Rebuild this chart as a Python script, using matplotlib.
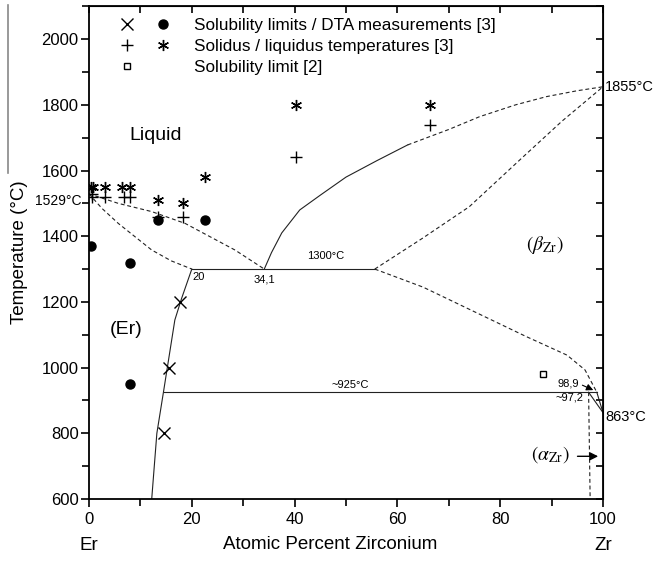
import numpy as np
import matplotlib
matplotlib.use('Agg')
import matplotlib.pyplot as plt
from matplotlib.lines import Line2D
from matplotlib.legend_handler import HandlerTuple
from matplotlib.ticker import MultipleLocator

plt.rcParams['font.family'] = ['Liberation Sans', 'DejaVu Sans']
plt.rcParams['mathtext.fontset'] = 'stix'

# measured points (x = at.% Zr, T in degC)
sol_x = [14.5, 15.5, 17.7]
sol_t = [800, 1000, 1200]
dta_x = [0.4, 8.0, 8.0, 13.4, 22.6]
dta_t = [1370, 1320, 950, 1450, 1450]
solidus_x = [0.5, 0.5, 3.2, 6.9, 8.0, 13.4, 18.2, 40.3, 66.3]
solidus_t = [1520, 1530, 1520, 1520, 1520, 1460, 1460, 1640, 1740]
liquidus_x = [0.3, 0.7, 3.1, 6.5, 8.0, 13.4, 18.2, 22.6, 40.3, 66.3]
liquidus_t = [1550, 1550, 1550, 1550, 1550, 1510, 1500, 1580, 1800, 1800]
lit_x = [88.3]
lit_t = [980]

# phase boundaries
er_solidus_x = [0, 2.5, 5.7, 12.2, 16, 20]
er_solidus_t = [1529, 1485, 1439, 1358, 1325, 1300]
er_liquidus_x = [0, 5.7, 12.2, 18.7, 28.4, 34.1]
er_liquidus_t = [1529, 1500, 1475, 1439, 1358, 1300]
zr_liq_solid_x = [34.1, 35.5, 37.5, 41, 45, 50, 56, 62]
zr_liq_solid_t = [1300, 1350, 1410, 1480, 1525, 1580, 1630, 1678]
zr_liq_dash_x = [62, 70, 76, 83, 89, 95, 100]
zr_liq_dash_t = [1678, 1725, 1764, 1800, 1825, 1843, 1855]
beta_sol_x = [55.6, 65, 74, 84, 92, 100]
beta_sol_t = [1300, 1395, 1490, 1635, 1750, 1855]
beta_low_x = [55.6, 65, 75, 85, 93, 96.5, 98.8]
beta_low_t = [1300, 1245, 1170, 1095, 1038, 993, 925]
er_solvus_x = [20, 18, 16.7, 14.5, 13.2, 12.2]
er_solvus_t = [1300, 1210, 1145, 927, 800, 600]
eut_x = [20, 55.6]
eut_t = [1300, 1300]
eutd_x = [14.5, 98.8]
eutd_t = [925, 925]
alpha_sol_x = [97.2, 97.5]
alpha_sol_t = [925, 600]
corner_a_x = [97.2, 100]
corner_a_t = [925, 863]
corner_b_x = [98.8, 100]
corner_b_t = [925, 863]

fig = plt.figure(figsize=(6.54, 5.62), dpi=100)
ax = fig.add_axes([0.1361, 0.1121, 0.7859, 0.8767])

lc = '#222222'
dash = (0, (3.5, 2.5))
lw = 0.8
ax.plot(er_solidus_x, er_solidus_t, color=lc, lw=lw, linestyle=dash)
ax.plot(er_liquidus_x, er_liquidus_t, color=lc, lw=lw, linestyle=dash)
ax.plot(zr_liq_solid_x, zr_liq_solid_t, color=lc, lw=lw)
ax.plot(zr_liq_dash_x, zr_liq_dash_t, color=lc, lw=lw, linestyle=dash)
ax.plot(beta_sol_x, beta_sol_t, color=lc, lw=lw, linestyle=dash)
ax.plot(beta_low_x, beta_low_t, color=lc, lw=lw, linestyle=dash)
ax.plot(er_solvus_x, er_solvus_t, color=lc, lw=lw)
ax.plot(eut_x, eut_t, color=lc, lw=lw)
ax.plot(eutd_x, eutd_t, color=lc, lw=lw)
ax.plot(alpha_sol_x, alpha_sol_t, color=lc, lw=lw, linestyle=dash)
ax.plot(corner_a_x, corner_a_t, color=lc, lw=lw)
ax.plot(corner_b_x, corner_b_t, color=lc, lw=lw)

h_x, = ax.plot(sol_x, sol_t, 'x', color='black', ms=8, mew=1.0, linestyle='none')
h_dot, = ax.plot(dta_x, dta_t, 'o', color='black', ms=6.5, linestyle='none')
h_plus, = ax.plot(solidus_x, solidus_t, '+', color='black', ms=9, mew=1.0, linestyle='none')
h_ast, = ax.plot(liquidus_x, liquidus_t, marker=(6, 2, 0), color='black', ms=8, mew=1.0, linestyle='none')
h_sq, = ax.plot(lit_x, lit_t, 's', mfc='white', mec='black', ms=5, mew=1.0, linestyle='none')
h_blank = Line2D([], [], linestyle='none', marker='none')

ax.set_xlim(0, 100)
ax.set_ylim(600, 2100)
ax.xaxis.set_major_locator(MultipleLocator(20))
ax.xaxis.set_minor_locator(MultipleLocator(10))
ax.yaxis.set_minor_locator(MultipleLocator(100))
ax.set_yticks([600, 800, 1000, 1200, 1400, 1600, 1800, 2000])
ax.tick_params(which='major', direction='out', length=6, width=1.2, labelsize=12)
ax.tick_params(which='minor', direction='out', length=5, width=1.2)
ax.tick_params(axis='y', which='major', pad=1.5)
for s in ax.spines.values():
    s.set_linewidth(1.3)

secx = ax.secondary_xaxis('top')
secx.xaxis.set_major_locator(MultipleLocator(20))
secx.xaxis.set_minor_locator(MultipleLocator(10))
secx.tick_params(which='both', direction='in', length=5, width=1.2, labeltop=False)
secy = ax.secondary_yaxis('right')
secy.yaxis.set_major_locator(MultipleLocator(200))
secy.yaxis.set_minor_locator(MultipleLocator(100))
secy.tick_params(which='both', direction='in', length=5, width=1.2, labelright=False)

ax.set_xlabel('Atomic Percent Zirconium', fontsize=13.5)
ax.xaxis.set_label_coords(0.469, -0.075, transform=ax.transAxes)
ax.set_ylabel('Temperature (°C)', fontsize=13.5, labelpad=10)
ax.text(0, -0.0935, 'Er', transform=ax.get_xaxis_transform(), ha='center', va='center', fontsize=13.5)
ax.text(100, -0.0935, 'Zr', transform=ax.get_xaxis_transform(), ha='center', va='center', fontsize=13.5)

leg = ax.legend([(h_x, h_dot), (h_plus, h_ast), (h_sq, h_blank)],
                ['Solubility limits / DTA measurements [3]',
                 'Solidus / liquidus temperatures [3]',
                 'Solubility limit [2]'],
                handler_map={tuple: HandlerTuple(ndivide=None, pad=0.0)},
                loc='upper left', bbox_to_anchor=(0.025, 0.99), frameon=False,
                fontsize=12.3, handlelength=4.2, handletextpad=0.8, labelspacing=0.35,
                borderaxespad=0)

ax.text(13.0, 1708, 'Liquid', fontsize=14, ha='center', va='center')
ax.text(7.2, 1117, '(Er)', fontsize=14, ha='center', va='center')
ax.text(88.7, 1373, r'$(\beta_{\mathrm{Zr}})$', fontsize=14, ha='center', va='center')
ax.text(89.7, 734, r'$(\alpha_{\mathrm{Zr}})$', fontsize=14, ha='center', va='center')
ax.annotate('', xy=(99.6, 730), xytext=(94.5, 730),
            arrowprops=dict(arrowstyle='-|>', color='black', lw=1, mutation_scale=12))
ax.annotate('', xy=(98.6, 928), xytext=(95.5, 950),
            arrowprops=dict(arrowstyle='-|>', color='black', lw=0.8, mutation_scale=10))
ax.text(46, 1340, '1300°C', fontsize=8, ha='center', va='center')
ax.text(20.2, 1275, '20', fontsize=8, ha='left', va='center')
ax.text(34.1, 1268, '34,1', fontsize=8, ha='center', va='center')
ax.text(50.8, 947, '~925°C', fontsize=8, ha='center', va='center')
ax.text(93.2, 952, '98,9', fontsize=8, ha='center', va='center')
ax.text(93.5, 910, '~97,2', fontsize=8, ha='center', va='center')
ax.text(100.4, 850, '863°C', fontsize=10.5, ha='left', va='center', clip_on=False)
ax.text(100.4, 1855, '1855°C', fontsize=10.5, ha='left', va='center', clip_on=False)
ax.text(-1.4, 1507, '1529°C', fontsize=10, ha='right', va='center', clip_on=False)

fig.add_artist(Line2D([8 / 654, 8 / 654], [1 - 5 / 562, 1 - 173 / 562], color='#888888', lw=1.2))

fig.savefig('out.png', dpi=100)
